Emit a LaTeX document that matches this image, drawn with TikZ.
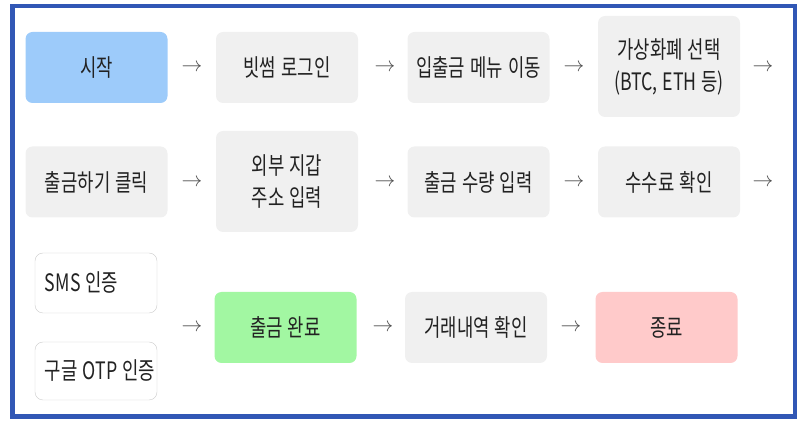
\documentclass[tikz,border=0pt]{standalone}
\usepackage{fontspec}
\usepackage{tikz}
\usetikzlibrary{calc}
\setmainfont{Noto Sans CJK KR}
\newfontfamily\kr[FakeStretch=0.74]{Noto Sans CJK KR}
\newcommand\boxfont{\kr\fontsize{24}{32}\selectfont\spaceskip=5pt\relax}
\definecolor{frameblue}{HTML}{3157B5}
\definecolor{boxgrey}{HTML}{F0F0F0}
\definecolor{startblue}{HTML}{9DCBFA}
\definecolor{donegreen}{HTML}{A2F7A2}
\definecolor{endpink}{HTML}{FFCACA}
\definecolor{txt}{HTML}{222222}
\tikzset{
  stepbox/.style={rounded corners=7pt,fill=boxgrey,minimum width=142pt,minimum height=71pt,
    align=center,text=txt,font=\boxfont},
  tallbox/.style={stepbox,minimum height=101pt},
  authbox/.style={rounded corners=8pt,draw=black!20,fill=white,minimum width=122pt,
    inner xsep=10pt,text width=102pt,align=flush left,text=txt,font=\boxfont},
  arr/.style={text=black!70,font=\fontsize{22}{22}\selectfont}
}
\begin{document}
\begin{tikzpicture}[x=1pt,y=-1pt]
    \useasboundingbox (0,0) rectangle (804,427);
    \draw[frameblue,line width=4.5pt] (12.5,6) rectangle (795,416.5);
    % first row
    \draw
    (96.5,67.5) node[stepbox,fill=startblue](start) {시작}
    (287,67.5) node[stepbox](login) {빗썸 로그인}
    (478.5,67.5) node[stepbox](menu) {입출금 메뉴 이동}
    (669,66.5) node[tallbox](coin) {가상화폐 선택\\(BTC, ETH 등)};
    \draw
    (192,68) node[arr](a1) {$\rightarrow$}
    (385,68) node[arr](a2) {$\rightarrow$}
    (574,68) node[arr](a3) {$\rightarrow$}
    (763,68) node[arr](a4) {$\rightarrow$};
    % second row
    \draw
    (96.5,182) node[stepbox](click) {출금하기 클릭}
    (287,181.5) node[tallbox](addr) {외부 지갑\\주소 입력}
    (478.5,182) node[stepbox](amount) {출금 수량 입력}
    (669,182) node[stepbox](fee) {수수료 확인};
    \draw
    (192,183) node[arr](a5) {$\rightarrow$}
    (385,183) node[arr](a6) {$\rightarrow$}
    (574,183) node[arr](a7) {$\rightarrow$}
    (763,183) node[arr](a8) {$\rightarrow$};
    % third row
    \draw
    (96,283) node[authbox,minimum height=60pt](sms) {\mbox{SMS 인증}}
    (96,371) node[authbox,minimum height=58pt](otp) {\mbox{구글 OTP 인증}}
    (285.5,327.5) node[stepbox,fill=donegreen](done) {출금 완료}
    (476,327.5) node[stepbox](history) {거래내역 확인}
    (666.5,327.5) node[stepbox,fill=endpink](finish) {종료};
    \draw
    (192,328) node[arr](a9) {$\rightarrow$}
    (383,328) node[arr](a10) {$\rightarrow$}
    (571,328) node[arr](a11) {$\rightarrow$};
\end{tikzpicture}
\end{document}
